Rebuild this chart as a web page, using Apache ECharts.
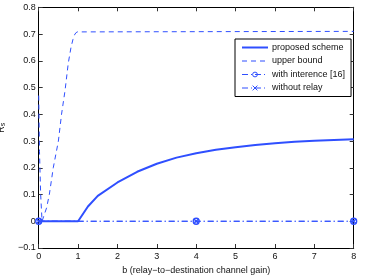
<!DOCTYPE html>
<html><head><meta charset="utf-8">
<script src="https://cdn.jsdelivr.net/npm/echarts@6/dist/echarts.min.js"></script>
<style>html,body{margin:0;padding:0;background:#fff}#c{width:373px;height:276px}</style>
</head><body><div id="c"></div>
<script>
// Data
const proposedB = [0, 0.5, 1, 1.25, 1.5, 2, 2.5, 3, 3.5, 4, 4.5, 5, 5.5, 6, 6.5, 7, 7.5, 8];
const proposedR = [0, 0, 0, 0.055, 0.095, 0.145, 0.185, 0.215, 0.238, 0.254, 0.267, 0.277, 0.285, 0.292, 0.297, 0.301, 0.304, 0.307];
const upperB = [0, 0.02, 0.05, 0.085, 0.12, 0.2, 0.27, 0.37, 0.5, 0.58, 0.67, 0.75, 0.82, 0.87, 0.92, 0.97, 1.0, 8];
const upperR = [0.47, 0.26, 0.1, 0.0, 0.005, 0.05, 0.1, 0.2, 0.3, 0.4, 0.49, 0.59, 0.65, 0.68, 0.70, 0.708, 0.71, 0.71];
const interfB = [0, 4, 8];
const interfR = [0, 0, 0];
const norelayB = [0, 4, 8];
const norelayR = [0, 0, 0];
const seriesNames = ['proposed scheme', 'upper bound', 'with interence [16]', 'without relay'];
const xTicks = [0, 1, 2, 3, 4, 5, 6, 7, 8];
const yTicks = [-0.1, 0, 0.1, 0.2, 0.3, 0.4, 0.5, 0.6, 0.7, 0.8];

const blue = '#2f4fff';
const zip = (a, b) => a.map((v, i) => [v, b[i]]);
const font = 'Liberation Sans, Arial, sans-serif';
const fmtY = v => { const r = Math.round(v * 10) / 10; return r < 0 ? '\u2212' + Math.abs(r) : String(r); };

const chart = echarts.init(document.getElementById('c'), null, {renderer: 'canvas'});
const axisLine = {show: true, onZero: false, lineStyle: {color: '#000', width: 1}};
const tick = {show: true, inside: true, length: 4, lineStyle: {color: '#333'}};
chart.setOption({
  animation: false,
  textStyle: {fontFamily: font},
  grid: {left: 38.7, right: 19.3, top: 7.3, bottom: 28, containLabel: false, outerBoundsMode: 'none'},
  xAxis: [{
    type: 'value', min: xTicks[0], max: xTicks[xTicks.length - 1], interval: 1,
    axisLine, axisTick: tick, splitLine: {show: false},
    axisLabel: {fontSize: 9, color: '#111', margin: 4, fontFamily: font},
    name: 'b (relay\u2212to\u2212destination channel gain)', nameLocation: 'middle', nameGap: 16,
    nameTextStyle: {fontSize: 9, color: '#111', fontFamily: font}
  }, {
    type: 'value', position: 'top', min: 0, max: 8, interval: 1,
    axisLine, axisTick: tick, axisLabel: {show: false}, splitLine: {show: false}
  }],
  yAxis: [{
    type: 'value', min: -0.1, max: 0.8, interval: 0.1,
    axisLine, axisTick: tick, splitLine: {show: false},
    axisLabel: {fontSize: 9, color: '#111', margin: 3, fontFamily: font, formatter: fmtY},
    name: '{r|R}{s|s}', nameLocation: 'middle', nameGap: 25, nameRotate: 90,
    nameTextStyle: {fontSize: 9, color: '#111', fontFamily: font,
      rich: {r: {fontSize: 9, fontFamily: font, color: '#111'}, s: {fontSize: 7, fontFamily: font, color: '#111', verticalAlign: 'bottom', padding: [4, 0, 0, 0]}}}
  }, {
    type: 'value', position: 'right', min: -0.1, max: 0.8, interval: 0.1,
    axisLine, axisTick: tick, axisLabel: {show: false}, splitLine: {show: false}
  }],
  legend: {
    orient: 'vertical', left: 235, top: 39, width: 112,
    padding: [4, 6, 4, 6], itemGap: 4.5, itemWidth: 26, itemHeight: 6,
    borderColor: '#000', borderWidth: 1, backgroundColor: '#fff',
    textStyle: {fontSize: 9, color: '#111', fontFamily: font, padding: [0, 0, 0, -1]},
    data: [
      {name: seriesNames[0], itemStyle: {opacity: 0}, lineStyle: {width: 2}},
      {name: seriesNames[1], itemStyle: {opacity: 0}, lineStyle: {width: 1, type: [5, 4]}},
      {name: seriesNames[2], itemStyle: {borderWidth: 1}, lineStyle: {width: 1}},
      {name: seriesNames[3], itemStyle: {borderWidth: 1}, lineStyle: {width: 1}}
    ]
  },
  series: [
    {name: seriesNames[0], type: 'line', data: zip(proposedB, proposedR), showSymbol: false, symbol: 'none',
     lineStyle: {color: blue, width: 2}, itemStyle: {color: blue}, z: 5},
    {name: seriesNames[1], type: 'line', data: zip(upperB, upperR), showSymbol: false, symbol: 'none',
     lineStyle: {color: blue, width: 1, type: [5, 4]}, itemStyle: {color: blue}},
    {name: seriesNames[2], type: 'line', data: zip(interfB, interfR), symbol: 'circle', symbolSize: 6,
     lineStyle: {color: blue, width: 1, type: [6, 3, 1, 3]},
     itemStyle: {color: 'rgba(0,0,0,0)', borderColor: blue, borderWidth: 1.3}},
    {name: seriesNames[3], type: 'line', data: zip(norelayB, norelayR), symbol: 'path://M0,0L10,10M10,0L0,10', symbolSize: 5,
     lineStyle: {color: blue, width: 1, type: [6, 3, 1, 3]},
     itemStyle: {color: 'rgba(0,0,0,0)', borderColor: blue, borderWidth: 1.2}}
  ]
});
</script></body></html>
